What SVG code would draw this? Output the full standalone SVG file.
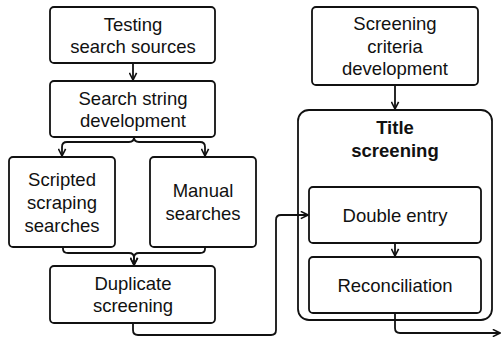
<svg xmlns="http://www.w3.org/2000/svg" width="501" height="337" viewBox="0 0 501 337">
<defs>
<style>
.box{fill:#fff;stroke:#111;stroke-width:1.8}
.t{font-family:"Liberation Sans",Arial,sans-serif;font-size:18.5px;fill:#111;text-anchor:middle}
.b{font-weight:bold}
.c{fill:none;stroke:#111;stroke-width:1.8}
</style>
<marker id="ah" viewBox="0 0 10 10" refX="9" refY="5" markerWidth="9" markerHeight="9" markerUnits="userSpaceOnUse" orient="auto">
<path d="M1,1 L9,5 L1,9" fill="none" stroke="#111" stroke-width="1.8"/>
</marker>
</defs>
<rect width="501" height="337" fill="#fff"/>
<g id="title-screening">
<rect class="box" x="298" y="110" width="194" height="210" rx="11"/>
<text class="t b" x="395" y="134">Title</text>
<text class="t b" x="395" y="157">screening</text>
</g>
<g id="testing">
<rect class="box" x="50" y="7" width="165" height="56" rx="4"/>
<text class="t" x="133" y="31">Testing</text>
<text class="t" x="133" y="53">search sources</text>
</g>
<g id="search-string">
<rect class="box" x="50" y="81" width="165" height="56" rx="4"/>
<text class="t" x="133" y="105">Search string</text>
<text class="t" x="133" y="127">development</text>
</g>
<g id="scripted">
<rect class="box" x="9" y="157" width="106" height="90" rx="4"/>
<text class="t" x="62" y="186">Scripted</text>
<text class="t" x="62" y="209">scraping</text>
<text class="t" x="62" y="232">searches</text>
</g>
<g id="manual">
<rect class="box" x="150" y="157" width="106" height="90" rx="4"/>
<text class="t" x="203" y="197">Manual</text>
<text class="t" x="203" y="220">searches</text>
</g>
<g id="duplicate">
<rect class="box" x="50" y="266" width="165" height="57" rx="4"/>
<text class="t" x="133" y="290">Duplicate</text>
<text class="t" x="133" y="312">screening</text>
</g>
<g id="screening-criteria">
<rect class="box" x="312" y="7" width="166" height="78" rx="4"/>
<text class="t" x="395" y="30">Screening</text>
<text class="t" x="395" y="53">criteria</text>
<text class="t" x="395" y="75">development</text>
</g>
<g id="double-entry">
<rect class="box" x="309" y="187" width="172" height="56" rx="4"/>
<text class="t" x="395" y="222">Double entry</text>
</g>
<g id="reconciliation">
<rect class="box" x="309" y="257" width="172" height="56" rx="4"/>
<text class="t" x="395" y="292">Reconciliation</text>
</g>
<g id="connectors">
<path class="c" d="M133,63 V80" marker-end="url(#ah)"/>
<path class="c" d="M134,137 Q134,142 129,142 H67 Q62,142 62,147 V156" marker-end="url(#ah)"/>
<path class="c" d="M134,137 Q134,142 139,142 H200 Q205,142 205,147 V156" marker-end="url(#ah)"/>
<path class="c" d="M63,247 V249 Q63,253 68,253 H129 Q134,253 134,258 V265" marker-end="url(#ah)"/>
<path class="c" d="M205,247 V249 Q205,253 200,253 H139 Q134,253 134,258 V265" marker-end="url(#ah)"/>
<path class="c" d="M133,323 V330 Q133,335 138,335 H271 Q276,335 276,330 V220 Q276,215 281,215 H308" marker-end="url(#ah)"/>
<path class="c" d="M395,85 V109" marker-end="url(#ah)"/>
<path class="c" d="M395,243 V256" marker-end="url(#ah)"/>
<path class="c" d="M395,313 V328 Q395,333 400,333 H500" marker-end="url(#ah)"/>
</g>
</svg>
